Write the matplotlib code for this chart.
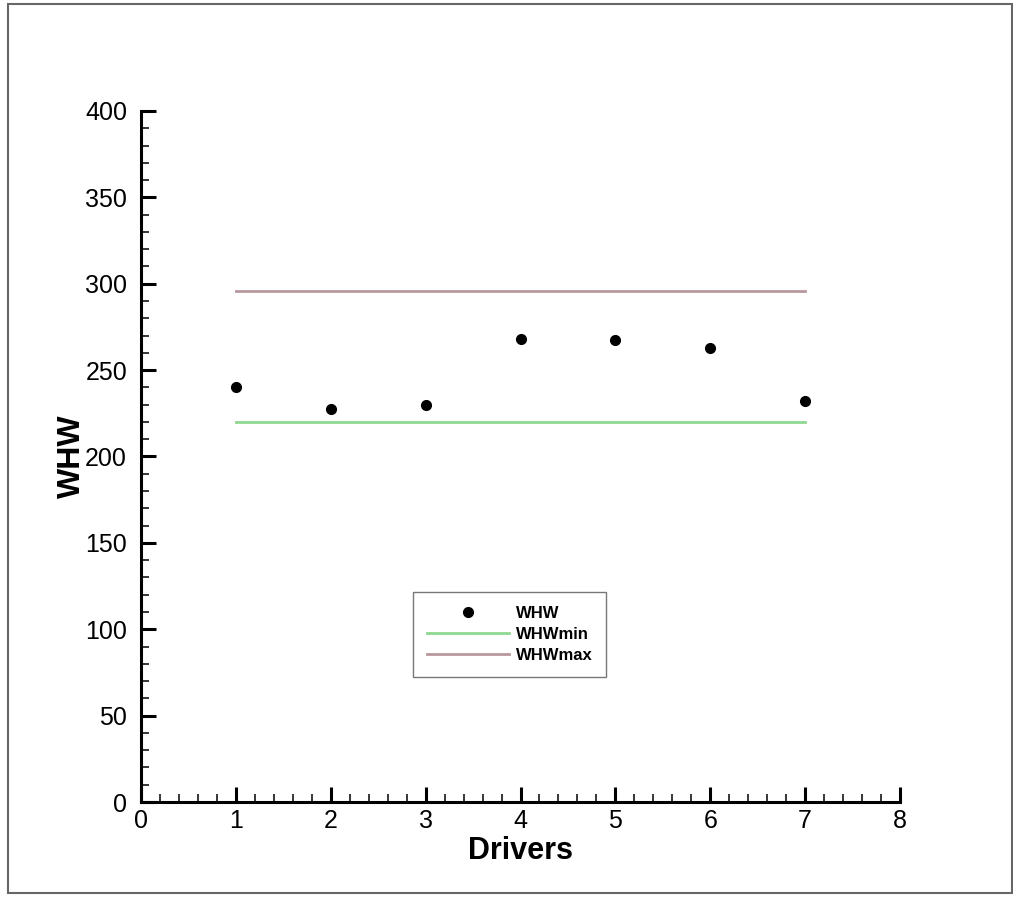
import matplotlib
matplotlib.use("Agg")
import matplotlib.pyplot as plt
from matplotlib.ticker import MultipleLocator
from matplotlib.patches import Rectangle

drivers = [1, 2, 3, 4, 5, 6, 7]
whw = [240, 227.5, 230, 268, 267.5, 263, 232]
whw_min = [220, 220, 220, 220, 220, 220, 220]
whw_max = [296, 296, 296, 296, 296, 296, 296]

plt.rcParams['font.family'] = ['Liberation Sans', 'DejaVu Sans']

fig = plt.figure(figsize=(10.13, 8.97), dpi=100)
ax = fig.add_axes([141/1013, 1 - 802/897, (900-141)/1013, (802-111)/897])

ax.plot(drivers, whw_min, color='#8fd88f', lw=2, label='WHWmin', zorder=2)
ax.plot(drivers, whw_max, color='#b8989f', lw=2, label='WHWmax', zorder=2)
ax.plot(drivers, whw, 'o', color='black', ms=7, label='WHW', linestyle='none', zorder=3)

ax.set_xlim(0, 8)
ax.set_ylim(0, 400)
ax.xaxis.set_major_locator(MultipleLocator(1))
ax.xaxis.set_minor_locator(MultipleLocator(0.2))
ax.yaxis.set_major_locator(MultipleLocator(50))
ax.yaxis.set_minor_locator(MultipleLocator(10))

for s in ['top', 'right']:
    ax.spines[s].set_visible(False)
for s in ['left', 'bottom']:
    ax.spines[s].set_linewidth(2.2)

ax.tick_params(which='major', direction='in', length=11, width=2.2, labelsize=18)
ax.tick_params(which='minor', direction='in', length=5.5, width=1.1)
ax.tick_params(axis='y', which='major', pad=10)
ax.tick_params(axis='x', which='major', pad=5)

ax.set_xlabel('Drivers', fontsize=22, fontweight='bold', labelpad=2)
ax.set_ylabel('WHW', fontsize=23, fontweight='bold', labelpad=-1)

handles, labels = ax.get_legend_handles_labels()
order = [2, 0, 1]
leg = ax.legend([handles[i] for i in order], [labels[i] for i in order],
                loc='upper left', bbox_to_anchor=((413-141)/759, (802-592)/691),
                borderaxespad=0,
                prop={'weight': 'bold', 'size': 12}, frameon=True, fancybox=False,
                edgecolor='#555555', handlelength=4.9, borderpad=0.85,
                labelspacing=0.35, handletextpad=0.4)
leg.get_frame().set_linewidth(1.0)

fig.patches.append(Rectangle((8/1013, 4/897), 1004/1013, 889/897, transform=fig.transFigure,
                             fill=False, edgecolor='#666666', lw=1.5))

fig.savefig('out.png', dpi=100)
